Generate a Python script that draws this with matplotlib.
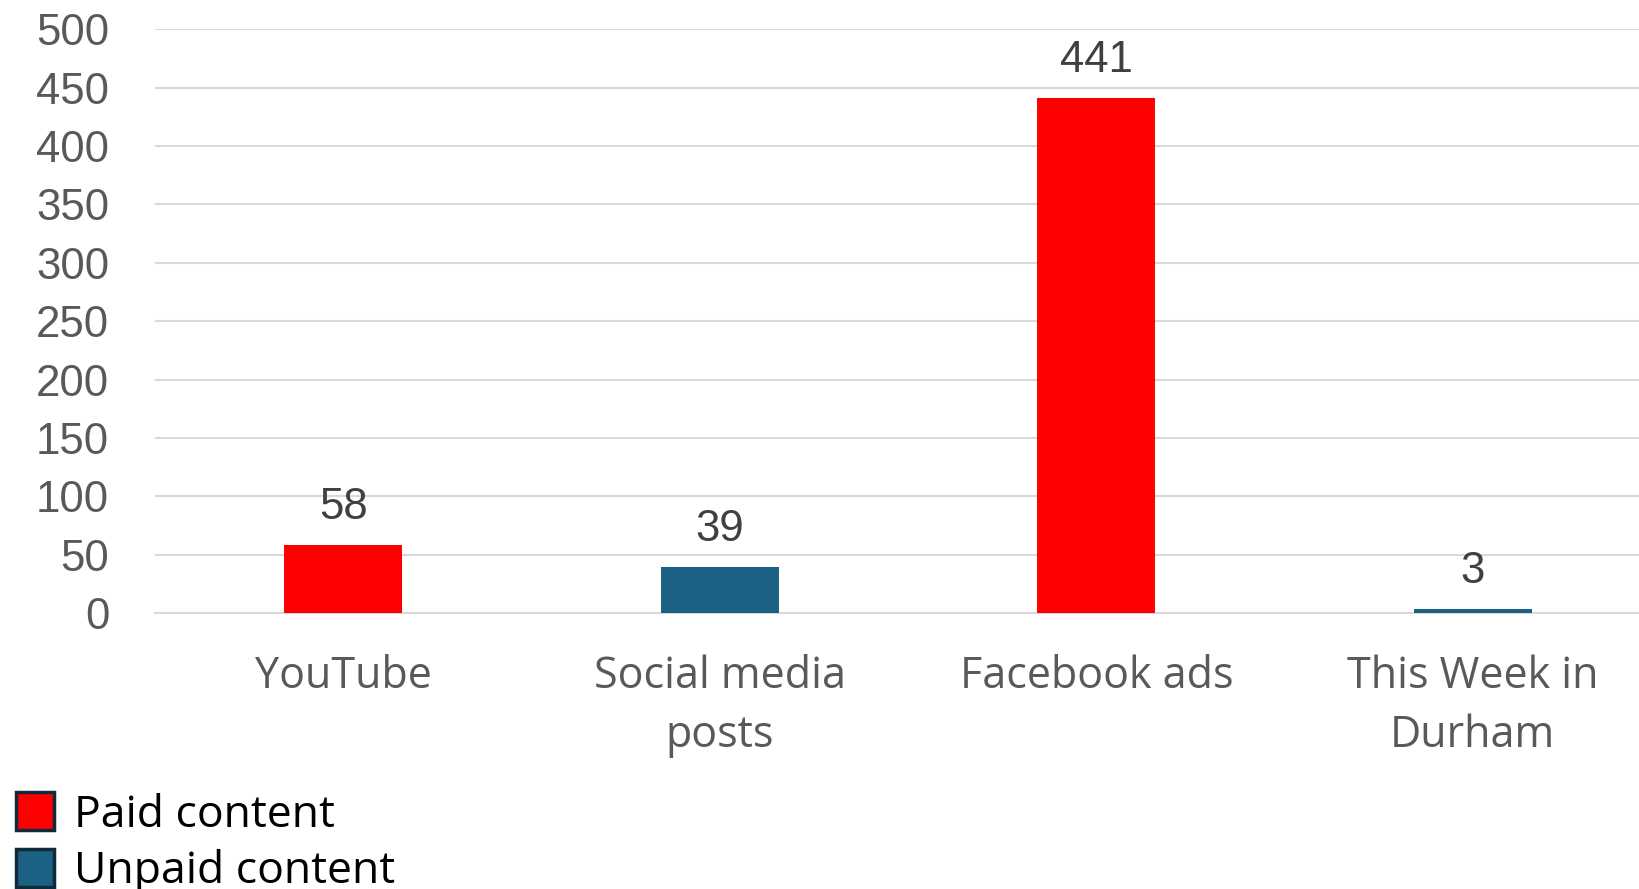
import matplotlib
matplotlib.use("Agg")
import matplotlib.pyplot as plt
from matplotlib.patches import Patch

categories = ["YouTube", "Social media\nposts", "Facebook ads", "This Week in\nDurham"]
values = [58, 39, 441, 3]
paid = [True, False, True, False]
yticks = [0, 50, 100, 150, 200, 250, 300, 350, 400, 450, 500]
legend_labels = ["Paid content", "Unpaid content"]

RED = "#FF0000"
BLUE = "#1A6183"
EDGE = "#0E2A3B"

fig = plt.figure(figsize=(16.4, 8.89), dpi=100)
ax = fig.add_axes([155/1640, 276/889, 4*376.5/1640, (859.7-276)/889])

x = list(range(len(categories)))
colors = [RED if p else BLUE for p in paid]
bars = ax.bar(x, values, width=0.314, color=colors, zorder=3)

for xi, v in zip(x, values):
    ax.annotate(str(v), (xi, v), xytext=(0, 12.5), textcoords="offset points",
                ha="center", va="bottom", fontsize=31.5, color="#404040",
                family="Liberation Sans")

ax.set_xlim(-0.5, 3.5)
ax.set_ylim(0, 500)
ax.set_yticks(yticks)
ax.set_yticklabels([str(t) for t in yticks], fontsize=31.5, color="#595959",
                   family="Liberation Sans")
ax.set_xticks(x)
ax.set_xticklabels(categories, fontsize=31, color="#595959", family="Open Sans",
                   linespacing=1.42)
ax.tick_params(axis="both", length=0)
ax.tick_params(axis="y", pad=33)
ax.tick_params(axis="x", pad=30)
ax.grid(axis="y", color="#D9D9D9", linewidth=1.5, zorder=0)
for s in ["top", "right", "left"]:
    ax.spines[s].set_visible(False)
ax.spines["bottom"].set_color("#D9D9D9")
ax.spines["bottom"].set_linewidth(1.5)
ax.set_axisbelow(True)

handles = [Patch(facecolor=RED, edgecolor=EDGE, linewidth=2.5),
           Patch(facecolor=BLUE, edgecolor=EDGE, linewidth=2.5)]
leg = fig.legend(handles, legend_labels, loc="upper left",
                 bbox_to_anchor=(0.0045, 0.119), frameon=False,
                 prop={"family": "Open Sans", "size": 32},
                 handlelength=0.85, handleheight=0.95, handletextpad=0.45,
                 labelspacing=0.25, borderaxespad=0, borderpad=0.2)
for t in leg.get_texts():
    t.set_color("black")

fig.savefig("out.png", dpi=100)
